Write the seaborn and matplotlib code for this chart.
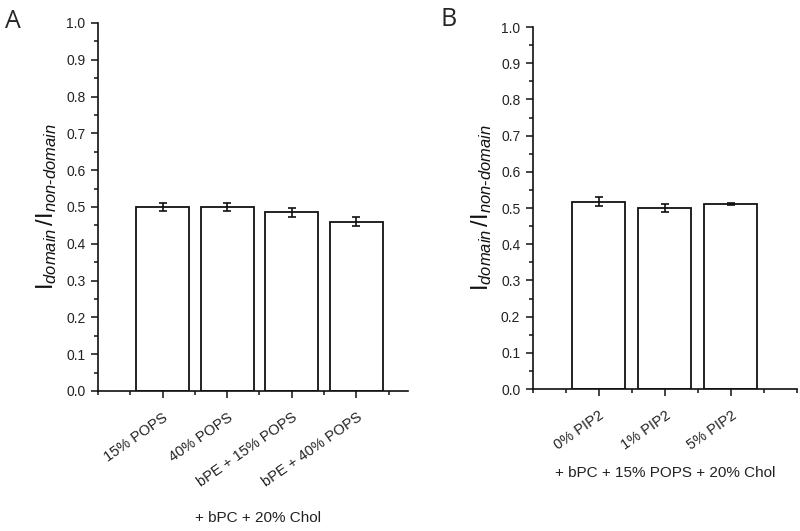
import matplotlib
matplotlib.use('Agg')
import matplotlib.pyplot as plt
from matplotlib.ticker import MultipleLocator
import seaborn as sns
import pandas as pd

# data
cats_a = ['15% POPS', '40% POPS', 'bPE + 15% POPS', 'bPE + 40% POPS']
vals_a = [0.500, 0.500, 0.486, 0.460]
errs_a = [0.012, 0.012, 0.012, 0.013]

cats_b = ['0% PIP2', '1% PIP2', '5% PIP2']
vals_b = [0.518, 0.500, 0.511]
errs_b = [0.013, 0.010, 0.004]

sns.set_style('ticks')
plt.rcParams['font.family'] = ['Liberation Sans', 'DejaVu Sans']
plt.rcParams['mathtext.fontset'] = 'custom'
plt.rcParams['mathtext.rm'] = 'Liberation Sans'
plt.rcParams['mathtext.it'] = 'Liberation Sans:italic'

fig = plt.figure(figsize=(8, 5.31), dpi=100)
ax_a = fig.add_axes([0.1225, 0.2637, 0.3875, 0.693])
ax_b = fig.add_axes([0.666, 0.2674, 0.33, 0.6817])

ylab = r'$\mathregular{I}_{\mathit{domain}}\,/\mathregular{I}_{\mathit{non\text{-}domain}}$'


def draw_panel(ax, cats, vals, errs, xmax, width):
    df = pd.DataFrame({'cond': cats, 'ratio': vals})
    sns.barplot(data=df, x='cond', y='ratio', ax=ax, color='white',
                edgecolor='#111111', linewidth=1.3, width=width,
                errorbar=None, saturation=1)
    ax.errorbar(range(len(cats)), vals, yerr=errs, fmt='none',
                ecolor='#111111', elinewidth=1.2, capsize=3.2, capthick=1.2)
    ax.set_xlim(-1, xmax)
    ax.set_ylim(0, 1.0)
    ax.yaxis.set_minor_locator(MultipleLocator(0.05))
    ax.xaxis.set_minor_locator(MultipleLocator(0.5))
    ax.set_yticks([i / 10 for i in range(11)])
    ax.set_yticklabels(['%.1f' % (i / 10) for i in range(11)], fontsize=10, color='#222222')
    ax.set_xticks(range(len(cats)))
    ax.set_xticklabels(cats, rotation=35, ha='right', rotation_mode='anchor',
                       fontsize=10.5, color='#222222')
    ax.tick_params(axis='both', which='major', length=5, width=1.1, color='#111111')
    ax.tick_params(axis='both', which='minor', length=3, width=1.1, color='#111111')
    ax.tick_params(axis='x', which='major', pad=9)
    ax.tick_params(axis='y', which='major', pad=4)
    for s in ['top', 'right']:
        ax.spines[s].set_visible(False)
    for s in ['left', 'bottom']:
        ax.spines[s].set_linewidth(1.2)
        ax.spines[s].set_color('#111111')
    ax.set_xlabel('')
    ax.set_ylabel(ylab, fontsize=17, labelpad=5, color='#111111')


draw_panel(ax_a, cats_a, vals_a, errs_a, 3.8, 0.82)
draw_panel(ax_b, cats_b, vals_b, errs_b, 3.0, 0.8)

fig.text(258 / 800, 1 - 518 / 531, '+ bPC + 20% Chol', ha='center', va='center',
         fontsize=11, color='#222222')
fig.text(665 / 800, 1 - 473 / 531, '+ bPC + 15% POPS + 20% Chol', ha='center', va='center',
         fontsize=11, color='#222222')

fig.text(5 / 800, 1 - 9 / 531, 'A', ha='left', va='top', fontsize=18,
         family=['Open Sans', 'DejaVu Sans'])
fig.text(440 / 800, 1 - 7 / 531, 'B', ha='left', va='top', fontsize=18,
         family=['Open Sans', 'DejaVu Sans'])

fig.savefig('out.png', dpi=100)
